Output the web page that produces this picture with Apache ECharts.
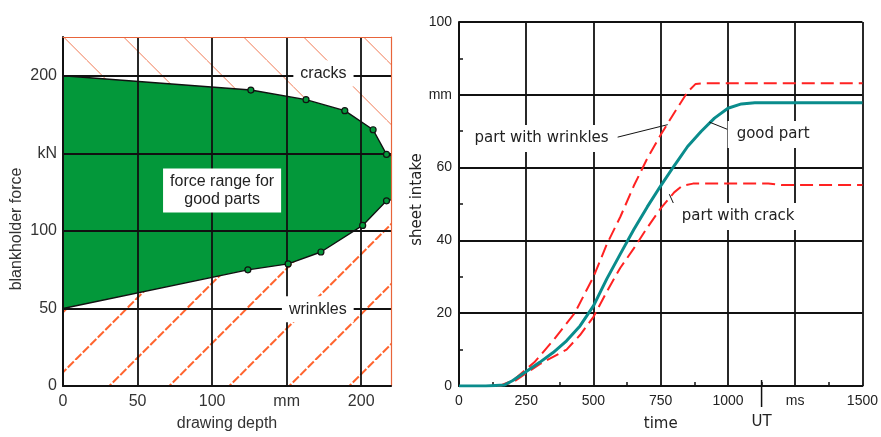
<!DOCTYPE html>
<html>
<head>
<meta charset="utf-8">
<script src="https://cdn.jsdelivr.net/npm/echarts@6/dist/echarts.min.js"></script>
<style>
html, body { margin: 0; padding: 0; background: #fff; }
#chart { width: 881px; height: 437px; }
</style>
</head>
<body>
<div id="chart"></div>
<script>
// left panel: process window, blankholder force vs drawing depth
var depthUpper = [0, 126, 163, 189, 208, 217, 220];
var forceUpper = [200, 190.8, 184.6, 177.5, 165.2, 149.3, 148.5];
var depthLower = [0, 124, 151, 173, 201, 217, 220];
var forceLower = [50, 74.9, 78.7, 86.4, 103.5, 119.4, 120];
var depthLabels = ['0', '50', '100', 'mm', '200'];
var forceLabels = ['0', '50', '100', 'kN', '200'];
var zoneText = ['cracks', 'wrinkles', 'force range for\ngood parts'];
var zoneAt = [[174.7, 201.5], [170.9, 49.5], [106.7, 126]];

// right panel: sheet intake vs time
var timeGood = [0, 100, 170, 200, 250, 300, 350, 400, 450, 500, 550, 600, 650, 700, 750, 800, 850, 900, 950, 1000, 1050, 1100, 1500];
var intakeGood = [0, 0, 0.3, 1.5, 4, 6.5, 9.2, 12.4, 16.5, 22, 29.5, 36.3, 43, 49.2, 55, 60.5, 65.8, 69.9, 73.6, 76.3, 77.5, 77.8, 77.8];
var timeWrinkles = [0, 150, 200, 280, 350, 430, 500, 550, 600, 650, 700, 750, 800, 850, 880, 910, 1500];
var intakeWrinkles = [0, 0, 1.5, 6.5, 12.5, 20, 30, 39, 46.5, 55, 62.5, 69, 75, 80.8, 83, 83.2, 83.2];
var timeCrack = [0, 150, 200, 250, 300, 350, 400, 450, 500, 550, 600, 650, 700, 750, 800, 830, 870, 1150, 1200, 1500];
var intakeCrack = [0, 0, 1, 3.5, 6, 8, 10, 14, 19, 26, 32.5, 37.8, 43.5, 48.8, 53.2, 55, 55.6, 55.6, 55.2, 55.2];
var timeLabels = ['0', '250', '500', '750', '1000', 'ms', '1500'];
var intakeLabels = ['0', '20', '40', '60', 'mm', '100'];
var noteText = ['part with wrinkles', 'good part', 'part with crack'];
var noteAt = [[307, 68], [1168, 69.1], [1038, 46.6]];
var notePointer = [
	[[570, 68], [776, 71.8]],
	[[931, 72.5], [1005, 70.3]],
	[[782, 52.7], [807, 48.6]]
];
var utTime = 1125;

function zip(xs, ys) {
	return xs.map(function(x, i) { return [x, ys[i]]; });
}

var GREEN = '#03983a';
var leftFont = 'Liberation Sans';
var rightFont = 'DejaVu Sans';

// hatch tile for the failure zones, 60px repeat, white under the strokes
function hatchTile(color, width, dash, offset, rising) {
	var s = 60;
	var cv = document.createElement('canvas');
	cv.width = s;
	cv.height = s;
	var ctx = cv.getContext('2d');
	ctx.fillStyle = '#fff';
	ctx.fillRect(0, 0, s, s);
	ctx.strokeStyle = color;
	ctx.lineWidth = width;
	ctx.setLineDash(dash);
	for (var k = -1; k <= 1; k++) {
		var c = offset + k * s;
		ctx.beginPath();
		if (rising) {
			ctx.moveTo(c - s, s);
			ctx.lineTo(c, 0);
		} else {
			ctx.moveTo(c, 0);
			ctx.lineTo(c + s, s);
		}
		ctx.stroke();
	}
	return cv;
}

var crackFill = { image: hatchTile('#f07a55', 1, [], 26.6, false), repeat: 'repeat' };
var wrinkleFill = { image: hatchTile('#ff6530', 2, [8.5, 2.107], 15.3, true), repeat: 'repeat' };

function borderAxis(pos, max) {
	return {
		type: 'value', gridIndex: 0, position: pos, min: 0, max: max, z: 5,
		axisLine: { show: true, onZero: false, lineStyle: { color: '#e8643a', width: 1.2 } },
		axisTick: { show: false }, axisLabel: { show: false }, splitLine: { show: false }
	};
}

var myChart = echarts.init(document.getElementById('chart'));

var options = {
	backgroundColor: '#fff',
	animation: false,
	grid: [
		{ left: 63, top: 37, width: 328, height: 351, show: true, backgroundColor: GREEN, borderWidth: 0 },
		{ left: 459, top: 22, width: 404, height: 369 }
	],
	xAxis: [
		{
			type: 'value', gridIndex: 0, min: 0, max: 220, interval: 50, z: 5,
			axisLine: { show: true, onZero: false, lineStyle: { color: '#111', width: 2 } },
			axisTick: { show: false },
			axisLabel: {
				margin: 8, fontSize: 16, color: '#333', fontFamily: leftFont,
				formatter: function(v) { return depthLabels[v / 50] || ''; }
			},
			splitLine: { show: true, showMaxLine: false, lineStyle: { color: '#111', width: 1.8 } },
			name: 'drawing depth', nameLocation: 'middle', nameGap: 30,
			nameTextStyle: { fontSize: 16, color: '#333', fontFamily: leftFont }
		},
		borderAxis('top', 220),
		{
			type: 'value', gridIndex: 1, min: 0, max: 1500, interval: 250,
			axisLine: { show: true, onZero: false, lineStyle: { color: '#111', width: 2 } },
			axisTick: { show: false, inside: true },
			minorTick: { show: true, splitNumber: 2, length: 4, lineStyle: { color: '#111', width: 1.5 } },
			axisLabel: {
				margin: 8, fontSize: 14, color: '#222', fontFamily: leftFont,
				formatter: function(v) { return timeLabels[v / 250] || ''; }
			},
			splitLine: { show: true, lineStyle: { color: '#111', width: 1.8 } },
			name: 'time', nameLocation: 'middle', nameGap: 31,
			nameTextStyle: { fontSize: 15, color: '#222', fontFamily: rightFont }
		}
	],
	yAxis: [
		{
			type: 'value', gridIndex: 0, min: 0, max: 225, interval: 50, z: 5,
			axisLine: { show: true, onZero: false, lineStyle: { color: '#111', width: 2 } },
			axisTick: { show: false },
			axisLabel: {
				margin: 6, fontSize: 16, color: '#333', fontFamily: leftFont,
				formatter: function(v) { return forceLabels[v / 50] || ''; }
			},
			splitLine: { show: true, showMaxLine: false, lineStyle: { color: '#111', width: 1.8 } },
			name: 'blankholder force', nameLocation: 'middle', nameGap: 38, nameRotate: 90,
			nameTextStyle: { fontSize: 16, color: '#333', fontFamily: leftFont, padding: [0, 35, 0, 0] }
		},
		borderAxis('right', 225),
		{
			type: 'value', gridIndex: 1, min: 0, max: 100, interval: 20,
			axisLine: { show: true, onZero: false, lineStyle: { color: '#111', width: 2 } },
			axisTick: { show: false, inside: true },
			minorTick: { show: true, splitNumber: 2, length: 4, lineStyle: { color: '#111', width: 1.5 } },
			axisLabel: {
				margin: 7, fontSize: 14, color: '#222', fontFamily: leftFont,
				formatter: function(v) { return intakeLabels[v / 20] || ''; }
			},
			splitLine: { show: true, lineStyle: { color: '#111', width: 1.8 } },
			name: 'sheet intake', nameLocation: 'middle', nameGap: 33, nameRotate: 90,
			nameTextStyle: { fontSize: 15, color: '#222', fontFamily: rightFont, padding: [0, 0, 0, 9] }
		}
	],
	series: [
		{
			name: 'cracks zone', type: 'line', xAxisIndex: 0, yAxisIndex: 0, z: 2,
			data: zip(depthUpper, forceUpper), symbol: 'none', silent: true,
			lineStyle: { color: '#111', width: 1.4 },
			areaStyle: { color: crackFill, opacity: 1, origin: 'end' }
		},
		{
			name: 'wrinkles zone', type: 'line', xAxisIndex: 0, yAxisIndex: 0, z: 2,
			data: zip(depthLower, forceLower), symbol: 'none', silent: true,
			lineStyle: { color: '#111', width: 1.4 },
			areaStyle: { color: wrinkleFill, opacity: 1, origin: 'start' }
		},
		{
			name: 'measured', type: 'scatter', xAxisIndex: 0, yAxisIndex: 0, z: 6,
			data: zip(depthUpper, forceUpper).slice(1, -1).concat(zip(depthLower, forceLower).slice(1, -1)),
			symbol: 'circle', symbolSize: 6,
			itemStyle: { color: GREEN, borderColor: '#111', borderWidth: 1.2, opacity: 1 }
		},
		{
			name: 'zone labels', type: 'scatter', xAxisIndex: 0, yAxisIndex: 0, z: 10,
			data: zoneAt, symbolSize: 0, silent: true,
			itemStyle: { opacity: 1 },
			label: {
				show: true, position: 'inside', fontSize: 16, lineHeight: 18, color: '#222', fontFamily: leftFont,
				backgroundColor: '#fff', padding: [4, 7],
				formatter: function(p) { return zoneText[p.dataIndex]; }
			}
		},
		{
			name: 'good part', type: 'line', xAxisIndex: 2, yAxisIndex: 2, z: 3,
			data: zip(timeGood, intakeGood), symbol: 'none',
			lineStyle: { color: '#0a8c8c', width: 3 }
		},
		{
			name: 'part with wrinkles', type: 'line', xAxisIndex: 2, yAxisIndex: 2, z: 2,
			data: zip(timeWrinkles, intakeWrinkles), symbol: 'none',
			lineStyle: { color: '#ff2222', width: 2, type: [13, 6] }
		},
		{
			name: 'part with crack', type: 'line', xAxisIndex: 2, yAxisIndex: 2, z: 2,
			data: zip(timeCrack, intakeCrack), symbol: 'none',
			lineStyle: { color: '#ff2222', width: 2, type: [13, 6] }
		},
		{
			name: 'notes', type: 'scatter', xAxisIndex: 2, yAxisIndex: 2, z: 10,
			data: noteAt, symbolSize: 0, silent: true,
			itemStyle: { opacity: 1 },
			label: {
				show: true, position: 'inside', fontSize: 15, color: '#222', fontFamily: rightFont,
				backgroundColor: '#fff', padding: [6, 9],
				formatter: function(p) { return noteText[p.dataIndex]; }
			},
			markLine: {
				silent: true, symbol: ['none', 'none'], animation: false,
				label: { show: false },
				lineStyle: { color: '#111', width: 1, type: 'solid' },
				data: notePointer.map(function(seg) {
					return [{ coord: seg[0] }, { coord: seg[1] }];
				})
			}
		}
	]
};

myChart.setOption(options);

// the UT mark sits on the time axis, below the plot
var ut = myChart.convertToPixel({ xAxisIndex: 2, yAxisIndex: 2 }, [utTime, 0]);
myChart.setOption({
	graphic: [
		{ type: 'line', z: 20, shape: { x1: ut[0], y1: ut[1] - 6, x2: ut[0], y2: ut[1] + 21 }, style: { stroke: '#111', lineWidth: 1.5 } },
		{ type: 'text', z: 20, x: ut[0], y: ut[1] + 36, style: { text: 'UT', fontSize: 15, fontFamily: rightFont, fill: '#222', align: 'center', verticalAlign: 'middle' } }
	]
});
</script>
</body>
</html>
